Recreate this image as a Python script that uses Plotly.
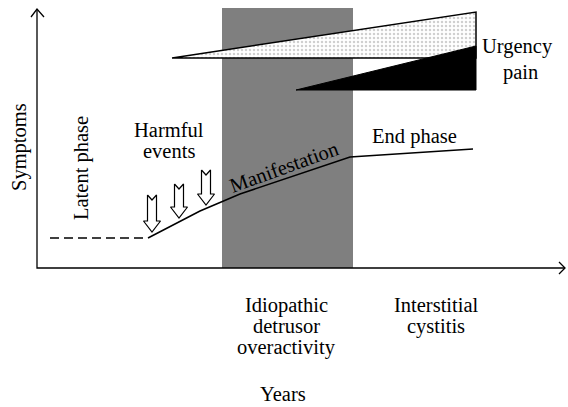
import plotly.graph_objects as go

# ---- data (schematic units: x to the right, y downward) ----
axis_x = [37, 37, 565]
axis_y = [9, 268, 268]
yarrow_x = [31, 37, 44]
yarrow_y = [17, 9, 17]
xarrow_x = [559, 565, 559]
xarrow_y = [262, 268, 274]

ido_band_x = [222, 353, 353, 222, 222]
ido_band_y = [8, 8, 268, 268, 8]

urgency_x = [172, 476, 476, 172]
urgency_y = [58, 12, 58, 58]
pain_x = [296, 476, 476, 296]
pain_y = [90, 46, 90, 90]

latent_x = [50, 148]
latent_y = [238, 238]
course_x = [148, 200, 240, 350, 473]
course_y = [238, 211, 194, 157, 149]

event_cx = [152, 179, 206]
event_top = [195, 184, 170]
event_tip = [232, 218, 205]

labels = [
    ("Urgency", 517, 46, 0),
    ("pain", 520, 72, 0),
    ("Symptoms", 19, 147, -90),
    ("Latent phase", 81, 168, -90),
    ("Harmful", 169, 130, 0),
    ("events", 169, 151, 0),
    ("Manifestation", 284, 167, -20),
    ("End phase", 414, 136, 0),
    ("Idiopathic", 286, 305, 0),
    ("detrusor", 286, 326, 0),
    ("overactivity", 286, 347, 0),
    ("Interstitial", 436, 305, 0),
    ("cystitis", 436, 326, 0),
    ("Years", 283, 394, 0),
]

fig = go.Figure()
blk = "#000000"

fig.add_trace(go.Scatter(x=ido_band_x, y=ido_band_y, mode="lines", fill="toself",
                         fillcolor="#7f7f7f", line=dict(width=0), hoverinfo="skip"))
fig.add_trace(go.Scatter(x=urgency_x, y=urgency_y, mode="lines", fill="toself",
                         fillcolor="white",
                         fillpattern=dict(shape=".", fgcolor="#a0a0a0", bgcolor="white",
                                          size=4, solidity=0.3),
                         line=dict(color=blk, width=1.5), hoverinfo="skip"))
fig.add_trace(go.Scatter(x=pain_x, y=pain_y, mode="lines", fill="toself",
                         fillcolor=blk, line=dict(color=blk, width=1), hoverinfo="skip"))
fig.add_trace(go.Scatter(x=latent_x, y=latent_y, mode="lines",
                         line=dict(color=blk, width=1.4, dash="9px,5px"), hoverinfo="skip"))
fig.add_trace(go.Scatter(x=course_x, y=course_y, mode="lines",
                         line=dict(color=blk, width=1.5), hoverinfo="skip"))

for cx, top, tip in zip(event_cx, event_top, event_tip):
    head = tip - 11
    ax = [cx - 4.5, cx, cx + 4.5, cx + 4.5, cx + 8.5, cx, cx - 8.5, cx - 4.5, cx - 4.5]
    ay = [top, top + 5, top, head, head, tip, head, head, top]
    fig.add_trace(go.Scatter(x=ax, y=ay, mode="lines", fill="toself", fillcolor="white",
                             line=dict(color=blk, width=1.2), hoverinfo="skip"))

fig.add_trace(go.Scatter(x=axis_x, y=axis_y, mode="lines",
                         line=dict(color=blk, width=1.3), hoverinfo="skip"))
fig.add_trace(go.Scatter(x=yarrow_x, y=yarrow_y, mode="lines",
                         line=dict(color=blk, width=1.3), hoverinfo="skip"))
fig.add_trace(go.Scatter(x=xarrow_x, y=xarrow_y, mode="lines",
                         line=dict(color=blk, width=1.3), hoverinfo="skip"))

for text, x, y, ang in labels:
    fig.add_annotation(x=x, y=y, xref="x", yref="y", text=text, showarrow=False,
                       textangle=ang, xanchor="center", yanchor="middle",
                       font=dict(family="Liberation Serif", size=20.5, color=blk))

fig.update_layout(
    width=568, height=407, margin=dict(l=0, r=0, t=0, b=0),
    paper_bgcolor="white", plot_bgcolor="white", showlegend=False,
    xaxis=dict(range=[0, 568], visible=False, fixedrange=True),
    yaxis=dict(range=[407, 0], visible=False, fixedrange=True),
)
fig.write_html("out.html", config={"displayModeBar": False},
               post_script="document.body.style.margin='0';"
               "document.body.style.overflow='hidden';")
